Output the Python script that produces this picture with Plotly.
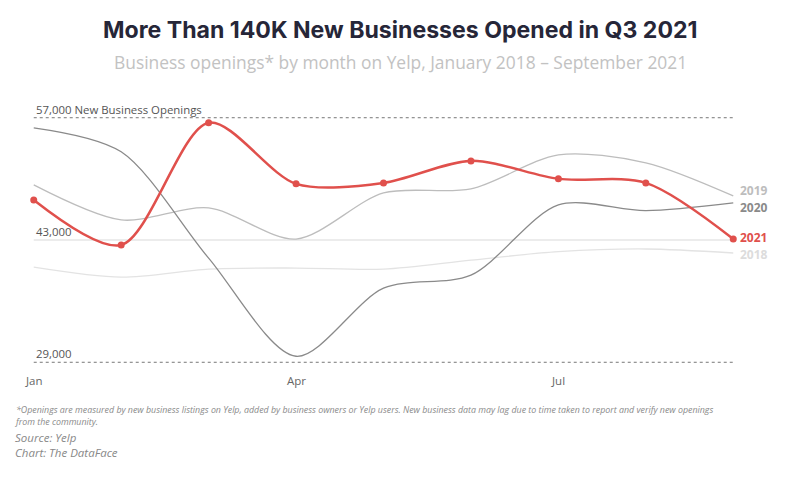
import plotly.graph_objects as go

months = [1, 2, 3, 4, 5, 6, 7, 8, 9]
tick_vals = [1, 4, 7]
tick_text = ["Jan", "Apr", "Jul"]

y2018 = [39900, 38750, 39670, 39790, 39670, 40700, 41660, 41970, 41510]
y2019 = [49310, 45300, 46670, 43110, 48390, 48850, 52750, 51840, 48050]
y2020 = [55850, 53100, 40930, 29690, 37490, 38980, 47020, 46360, 47250]
y2021 = [47590, 42430, 56430, 49430, 49540, 52060, 50000, 49540, 43110]

ref_lines = [57000, 43000, 29000]
ref_labels = ["57,000 New Business Openings", "43,000", "29,000"]

RED = "#e0504c"
FONT = "Open Sans"
SMOOTH = 0.85

# page has an 8px body margin; figure is sized/positioned to compensate
OFF = 8
W, H = 800 - OFF, 487 - OFF
L, R, T, B = 17.26, 58.26, 101.29, 116.29

def px(pix):
    return (pix - OFF - L) / (W - L - R)

def py(pix):
    return (H - B - (pix - OFF)) / (H - T - B)

fig = go.Figure()

series = [
    ("2018", y2018, "#e3e3e3", 1.3),
    ("2019", y2019, "#bdbdbd", 1.3),
    ("2020", y2020, "#8a8a8a", 1.3),
]
for name, ys, col, w in series:
    fig.add_trace(go.Scatter(x=months, y=ys, mode="lines", name=name,
                             line=dict(color=col, width=w, shape="spline", smoothing=SMOOTH),
                             hoverinfo="skip"))

fig.add_trace(go.Scatter(x=months, y=y2021, mode="lines+markers", name="2021",
                         line=dict(color=RED, width=2.5, shape="spline", smoothing=SMOOTH),
                         marker=dict(color=RED, size=7), cliponaxis=False))

for v in ref_lines:
    if v == 43000:
        fig.add_shape(type="line", xref="x", yref="y", x0=1, x1=9, y0=v, y1=v,
                      line=dict(color="#e6e6e6", width=1.5), layer="below")
    else:
        fig.add_shape(type="line", xref="x", yref="y", x0=1, x1=9, y0=v, y1=v,
                      line=dict(color="#777777", width=1, dash="dot"), layer="below")

annotations = []
for v, t in zip(ref_lines, ref_labels):
    annotations.append(dict(x=1, y=v, xref="x", yref="y", text=t, showarrow=False,
                            xanchor="left", yanchor="bottom", xshift=0, yshift=-1,
                            font=dict(family=FONT, size=11.4, color="#555555")))

for tv, tt in zip(tick_vals, tick_text):
    annotations.append(dict(x=tv, y=29000, xref="x", yref="y", text=tt, showarrow=False,
                            xanchor="center", yanchor="top", yshift=-9,
                            font=dict(family=FONT, size=11.5, color="#666666")))

end_labels = [
    ("2019", y2019[-1], "#bdbdbd", 5),
    ("2020", y2020[-1], "#8a8a8a", -5),
    ("2021", y2021[-1], RED, 2),
    ("2018", y2018[-1], "#dcdcdc", -1),
]
for t, v, col, ys in end_labels:
    annotations.append(dict(x=9, y=v, xref="x", yref="y", text="<b>" + t + "</b>", showarrow=False,
                            xanchor="left", yanchor="middle", xshift=5, yshift=ys,
                            font=dict(family=FONT, size=12, color=col)))

annotations += [
    dict(x=px(400), y=py(30), xref="paper", yref="paper", showarrow=False,
         text="<b>More Than 140K New Businesses Opened in Q3 2021</b>",
         xanchor="center", yanchor="middle",
         font=dict(family="Inter", size=23.1, color="#262638", weight=900)),
    dict(x=px(400), y=py(62), xref="paper", yref="paper", showarrow=False,
         text="Business openings* by month on Yelp, January 2018 – September 2021",
         xanchor="center", yanchor="middle",
         font=dict(family=FONT, size=17.4, color="#c2c2c2")),
    dict(x=px(13), y=py(402), xref="paper", yref="paper", showarrow=False, align="left",
         text="<i>*Openings are measured by new business listings on Yelp, added by business owners or Yelp users. New business data may lag due to time taken to report and verify new openings<br>from the community.</i>",
         xanchor="left", yanchor="top",
         font=dict(family=FONT, size=8.85, color="#8a8a8a")),
    dict(x=px(13), y=py(428), xref="paper", yref="paper", showarrow=False, align="left",
         text="<i>Source: Yelp<br>Chart: The DataFace</i>",
         xanchor="left", yanchor="top",
         font=dict(family=FONT, size=11.5, color="#888888")),
]

fig.update_layout(
    width=W, height=H,
    margin=dict(l=L, r=R, t=T, b=B),
    paper_bgcolor="white", plot_bgcolor="white",
    showlegend=False,
    xaxis=dict(range=[0.9, 9.1], showgrid=False, zeroline=False, showticklabels=False,
               showline=False, fixedrange=True),
    yaxis=dict(range=[28000, 58000], showgrid=False, zeroline=False, showticklabels=False,
               showline=False, fixedrange=True),
    annotations=annotations,
)

fig.write_html("out.html")
